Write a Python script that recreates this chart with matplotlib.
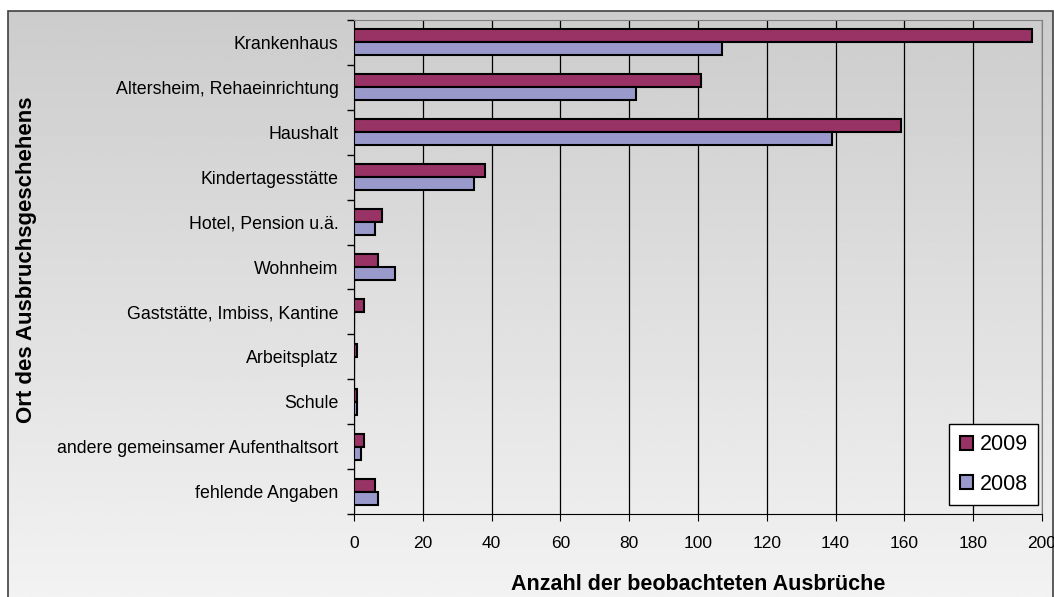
import numpy as np
import matplotlib.pyplot as plt
from matplotlib.patches import Rectangle

plt.rcParams['font.family'] = ['Liberation Sans', 'DejaVu Sans']

# Daten
orte = ['Krankenhaus', 'Altersheim, Rehaeinrichtung', 'Haushalt', 'Kindertagesstätte',
        'Hotel, Pension u.ä.', 'Wohnheim', 'Gaststätte, Imbiss, Kantine', 'Arbeitsplatz',
        'Schule', 'andere gemeinsamer Aufenthaltsort', 'fehlende Angaben']
werte_2009 = [197, 101, 159, 38, 8, 7, 3, 1, 1, 3, 6]
werte_2008 = [107, 82, 139, 35, 6, 12, 0, 0, 1, 2, 7]
x_ticks = [0, 20, 40, 60, 80, 100, 120, 140, 160, 180, 200]

fig = plt.figure(figsize=(10.54, 5.97), dpi=100)

# Hintergrund mit Verlauf
bg = fig.add_axes([0, 0, 1, 1], zorder=-10)
grad = np.linspace(0.80, 0.95, 256).reshape(-1, 1)
bg.imshow(grad, aspect='auto', cmap='gray', vmin=0, vmax=1,
          extent=[8 / 1054, 1053 / 1054, 0, 1 - 11 / 597], origin='upper')
bg.set_xlim(0, 1)
bg.set_ylim(0, 1)
bg.add_patch(Rectangle((8 / 1054, -0.01), 1045 / 1054, 1.01 - 11 / 597, fill=False,
                       edgecolor='#404040', linewidth=1.2))
bg.axis('off')

ax = fig.add_axes([354 / 1054, 1 - 514 / 597, 688 / 1054, 494 / 597])
ax.set_facecolor('none')

y = np.arange(len(orte))
h = 0.29
ax.barh(y - h / 2, werte_2009, height=h, color='#993366', edgecolor='black', linewidth=1.5, label='2009', zorder=3)
ax.barh(y + h / 2, werte_2008, height=h, color='#9999CC', edgecolor='black', linewidth=1.5, label='2008', zorder=3)

ax.set_xlim(0, 200)
ax.set_ylim(len(orte) - 0.5, -0.5)
ax.set_xticks(x_ticks)
ax.set_xticklabels([str(t) for t in x_ticks], fontsize=12.5)
ax.xaxis.grid(True, color='black', linewidth=0.9, zorder=0)
ax.set_axisbelow(True)

ax.set_yticks(y)
ax.set_yticklabels(orte, fontsize=12.8)
ax.tick_params(axis='y', length=0, pad=11)
ax.set_yticks(np.arange(len(orte) + 1) - 0.5, minor=True)
ax.tick_params(axis='y', which='minor', length=5, width=1, direction='out')
ax.tick_params(axis='x', length=5, direction='out', pad=11)

for s in ['top', 'right']:
    ax.spines[s].set_color('#808080')
ax.spines['left'].set_color('black')
ax.spines['bottom'].set_color('black')

ax.set_xlabel('Anzahl der beobachteten Ausbrüche', fontsize=15.5, fontweight='bold', va='center')
ax.xaxis.set_label_coords(0.5, -71 / 494)
ax.set_ylabel('Ort des Ausbruchsgeschehens', fontsize=16, fontweight='bold', va='center')
ax.yaxis.set_label_coords(-327 / 688, 0.5 + 7 / 494)

leg = ax.legend(loc='lower right', bbox_to_anchor=(1.0 + 5 / 688, 0.0), fontsize=15.5, frameon=True,
                fancybox=False, edgecolor='black', framealpha=1, handlelength=0.6,
                handleheight=0.6, handletextpad=0.3, borderpad=0.5, labelspacing=0.85,
                borderaxespad=0.4)
leg.get_frame().set_linewidth(1.0)

fig.savefig('out.png', dpi=100)
